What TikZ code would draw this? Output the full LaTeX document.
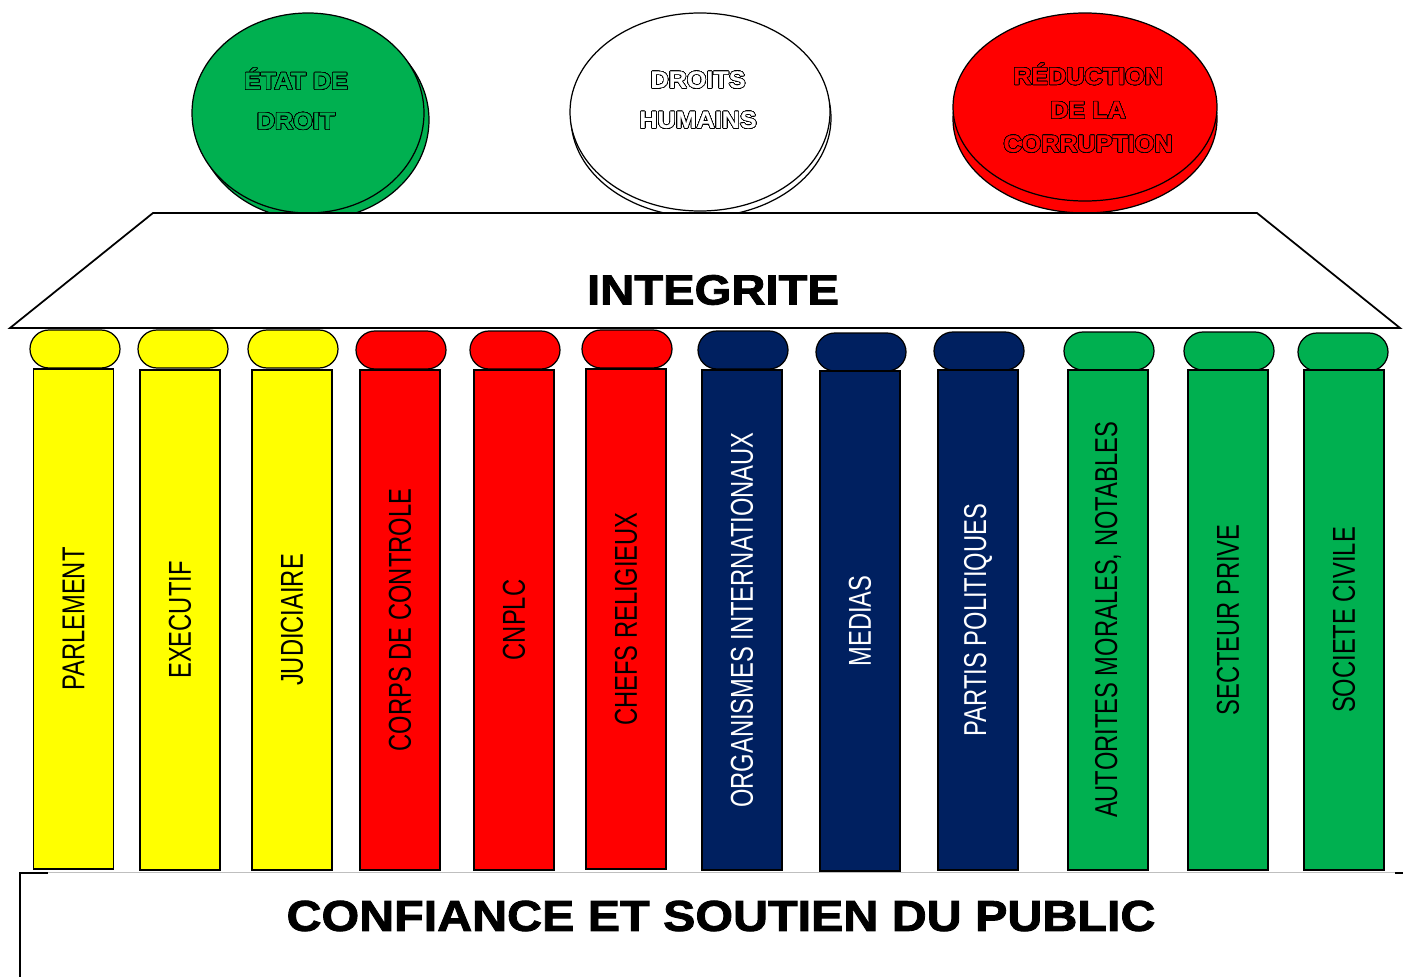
\documentclass[tikz,border=0pt]{standalone}
\usepackage{fontspec}
\usepackage{contour}
\setmainfont{Liberation Sans}
\newfontfamily\pillarfont[FakeStretch=0.75]{Liberation Sans}
\newfontfamily\titlefont[FakeStretch=1.12,FakeBold=2]{Liberation Sans}
\newfontfamily\circlefont[FakeStretch=1.06,FakeBold=0.3]{Liberation Sans}
\contourlength{0.4pt}
\contournumber{24}
\definecolor{pyellow}{HTML}{FFFF00}
\definecolor{pred}{HTML}{FF0000}
\definecolor{pnavy}{HTML}{002060}
\definecolor{pgreen}{HTML}{00B050}
\begin{document}
\begin{tikzpicture}[x=0.2mm,y=-0.2mm,line width=0.7pt,
  shaft/.style={draw,rotate=90,minimum width=100mm,minimum height=16mm,inner sep=0pt,
    font=\pillarfont\fontsize{18}{18}\selectfont},
  capital/.style={draw,rounded corners=3.8mm,minimum width=18mm,minimum height=7.6mm,inner sep=0pt},
  disc/.style={align=center,inner sep=0pt,font=\circlefont\bfseries\fontsize{13.5}{22.8}\selectfont},
  title/.style={inner sep=0pt,font=\titlefont\bfseries\fontsize{24}{24}\selectfont}]
  \useasboundingbox (0,0) rectangle (1403,977);

  % the three aims on the roof
  \draw[fill=pgreen] (313,120) ellipse [x radius=116,y radius=100];
  \draw[fill=pgreen] (308,113) ellipse [x radius=116,y radius=100];
  \draw[fill=white] (701,118) ellipse [x radius=130,y radius=99];
  \draw[fill=white] (700,112) ellipse [x radius=130,y radius=99];
  \draw[fill=pred] (1085,119) ellipse [x radius=132,y radius=94];
  \draw[fill=pred] (1085,107) ellipse [x radius=132,y radius=94];
  \node (etat) at (296,99) [disc,text=pgreen]{\contour{black}{ÉTAT DE}\\\contour{black}{DROIT}};
  \node (droits) at (698,100) [disc,text=white]{\contour{black}{DROITS}\\\contour{black}{HUMAINS}};
  \node (reduc) at (1088,108) [disc,text=pred,font=\circlefont\bfseries\fontsize{13.5}{19.2}\selectfont]
    {\contour{black}{RÉDUCTION}\\\contour{black}{DE LA}\\\contour{black}{CORRUPTION}};

  % roof
  \draw[fill=white,line width=1pt] (153,213) -- (1257,213) -- (1400,328) -- (10,328) -- cycle;
  \node (integ) at (713,290) [title]{INTEGRITE};

  % pillars
  \node (c1) at (75,349) [capital,fill=pyellow]{};
  \node (c2) at (183,349) [capital,fill=pyellow]{};
  \node (c3) at (293,349) [capital,fill=pyellow]{};
  \node (c4) at (401,350) [capital,fill=pred]{};
  \node (c5) at (515,350) [capital,fill=pred]{};
  \node (c6) at (627,349) [capital,fill=pred]{};
  \node (c7) at (743,350) [capital,fill=pnavy]{};
  \node (c8) at (861,352) [capital,fill=pnavy]{};
  \node (c9) at (979,351) [capital,fill=pnavy]{};
  \node (c10) at (1109,351) [capital,fill=pgreen]{};
  \node (c11) at (1229,351) [capital,fill=pgreen]{};
  \node (c12) at (1343,352) [capital,fill=pgreen]{};
  \node (parl) at (73.5,619) [shaft,fill=pyellow]{PARLEMENT};
  \node (exec) at (180,620) [shaft,fill=pyellow]{EXECUTIF};
  \node (judi) at (292,620) [shaft,fill=pyellow]{JUDICIAIRE};
  \node (corps) at (400,620) [shaft,fill=pred]{CORPS DE CONTROLE};
  \node (cnplc) at (514,620) [shaft,fill=pred]{CNPLC};
  \node (chefs) at (626,619) [shaft,fill=pred]{CHEFS RELIGIEUX};
  \node (orga) at (742,620) [shaft,fill=pnavy,text=white]{ORGANISMES INTERNATIONAUX};
  \node (medias) at (860,621) [shaft,fill=pnavy,text=white]{MEDIAS};
  \node (partis) at (978,620) [shaft,fill=pnavy,text=white]{PARTIS POLITIQUES};
  \node (auto) at (1108,620) [shaft,fill=pgreen]{AUTORITES MORALES, NOTABLES};
  \node (prive) at (1228,620) [shaft,fill=pgreen]{SECTEUR PRIVE};
  \node (civile) at (1344,620) [shaft,fill=pgreen]{SOCIETE CIVILE};

  % base
  \draw[gray!50,line width=0.4pt] (20,872) -- (1395,872);
  \draw[line width=0.8pt] (48,873) -- (20,873) -- (20,977);
  \draw[line width=0.8pt] (1395,873) -- (1403,873);
  \node (public) at (721,916) [title,font=\titlefont\bfseries\fontsize{24.6}{24.6}\selectfont]{CONFIANCE ET SOUTIEN DU PUBLIC};
\end{tikzpicture}
\end{document}
